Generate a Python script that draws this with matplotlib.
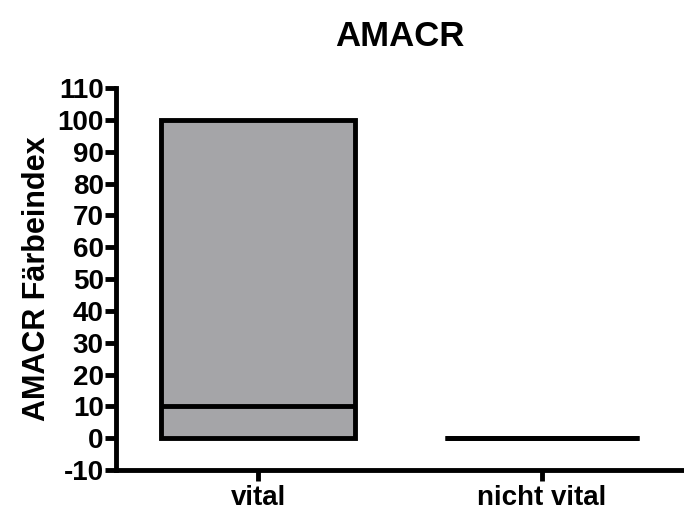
import matplotlib.pyplot as plt

plt.rcParams['font.family'] = ['Liberation Sans', 'DejaVu Sans']
plt.rcParams['font.weight'] = 'bold'
plt.rcParams['axes.unicode_minus'] = False

# Boxplot-Kennwerte
gruppen = ["vital", "nicht vital"]
minimum = [0, 0]
q1 = [0, 0]
median = [10, 0]
q3 = [100, 0]
maximum = [100, 0]

stats = []
for i, name in enumerate(gruppen):
    stats.append({
        "label": name,
        "whislo": minimum[i],
        "q1": q1[i],
        "med": median[i],
        "q3": q3[i],
        "whishi": maximum[i],
        "fliers": [],
    })

fig = plt.figure(figsize=(6.84, 5.12), dpi=100)
ax = fig.add_axes([0.170, 0.082, 0.83, 0.746])

lw = 3.5
ax.bxp(
    stats,
    positions=[1, 2],
    widths=0.685,
    patch_artist=True,
    showfliers=False,
    boxprops=dict(facecolor="#a5a5a8", edgecolor="black", linewidth=lw),
    medianprops=dict(color="black", linewidth=lw),
    whiskerprops=dict(color="black", linewidth=lw),
    capprops=dict(linewidth=0),
)

ax.set_xlim(0.5, 2.5)
ax.set_ylim(-10, 110)
ax.set_yticks(range(-10, 111, 10))
ax.set_xticks([1, 2])
ax.set_xticklabels(gruppen)

for s in ["top", "right"]:
    ax.spines[s].set_visible(False)
for s in ["left", "bottom"]:
    ax.spines[s].set_linewidth(lw)

ax.tick_params(axis="both", width=lw, length=8, labelsize=20)
ax.tick_params(axis="y", pad=1)
ax.tick_params(axis="x", pad=3)

ax.set_ylabel("AMACR Färbeindex", fontsize=22, fontweight="bold", labelpad=4)
ax.set_title("AMACR", fontsize=25, fontweight="bold", pad=30)

fig.savefig("out.png", dpi=100)
